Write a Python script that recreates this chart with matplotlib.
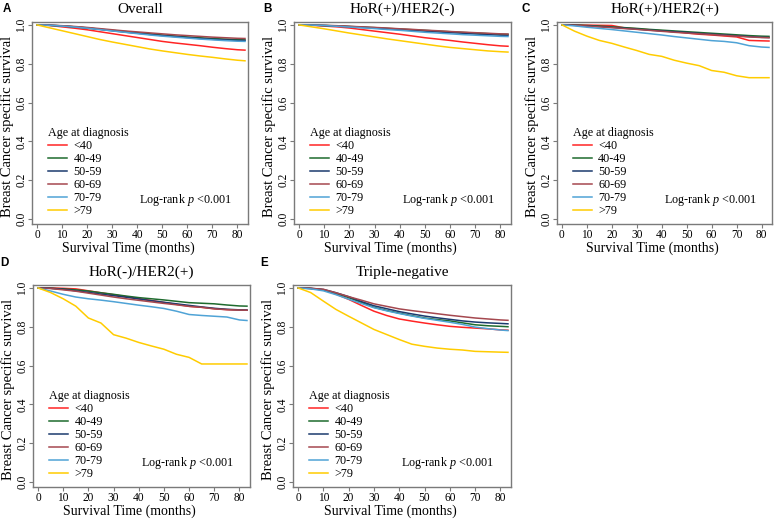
import matplotlib
matplotlib.use("Agg")
import matplotlib.pyplot as plt
from matplotlib.lines import Line2D

plt.rcParams['font.family'] = ['Liberation Serif', 'DejaVu Serif']
plt.rcParams['mathtext.fontset'] = 'custom'
plt.rcParams['mathtext.rm'] = 'Liberation Serif'
plt.rcParams['mathtext.it'] = 'Liberation Serif:italic'

# ---------------- data ----------------
months = [0, 5, 10, 15, 20, 25, 30, 35, 40, 45, 50, 55, 60, 65, 70, 75, 80, 83]
age_groups = ["<40", "40-49", "50-59", "60-69", "70-79", ">79"]
colors = ["#FF2424", "#1E6B2E", "#1B3A6E", "#A5484F", "#4FA3D6", "#FFCC00"]

overall = {
    "<40":   [1, .997, .99, .983, .975, .965, .955, .945, .935, .925, .915, .907, .90, .893, .885, .878, .872, .87],
    "40-49": [1, .998, .995, .99, .985, .978, .972, .966, .96, .954, .948, .943, .938, .934, .93, .927, .924, .923],
    "50-59": [1, .998, .995, .99, .984, .977, .97, .963, .957, .951, .945, .94, .935, .93, .926, .923, .92, .92],
    "60-69": [1, .999, .996, .992, .987, .981, .975, .969, .964, .959, .954, .949, .945, .941, .937, .934, .931, .93],
    "70-79": [1, .998, .994, .989, .983, .976, .969, .962, .955, .948, .942, .937, .932, .927, .923, .919, .916, .915],
    ">79":   [1, .985, .97, .955, .94, .925, .912, .9, .888, .876, .866, .857, .848, .84, .833, .825, .818, .815],
}
hor_pos_her2_neg = {
    "<40":   [1, .998, .994, .99, .984, .976, .968, .96, .952, .943, .934, .927, .92, .912, .905, .898, .892, .89],
    "40-49": [1, .999, .997, .995, .992, .989, .986, .982, .979, .975, .972, .968, .965, .961, .958, .955, .952, .951],
    "50-59": [1, .999, .997, .994, .991, .987, .984, .98, .976, .972, .968, .964, .96, .957, .953, .95, .947, .946],
    "60-69": [1, .999, .998, .996, .993, .99, .987, .984, .98, .977, .973, .97, .966, .963, .96, .957, .954, .953],
    "70-79": [1, .999, .997, .993, .989, .985, .981, .976, .972, .967, .962, .958, .954, .95, .947, .944, .941, .94],
    ">79":   [1, .99, .98, .969, .958, .948, .938, .928, .919, .91, .901, .892, .884, .878, .872, .866, .862, .86],
}
hor_pos_her2_pos = {
    "<40":   [1, 1, .999, .998, .997, .985, .98, .975, .97, .965, .958, .952, .948, .943, .938, .92, .918, .917],
    "40-49": [1, .999, .997, .994, .99, .986, .982, .977, .973, .969, .965, .961, .957, .953, .949, .945, .942, .941],
    "50-59": [1, .998, .995, .991, .987, .983, .978, .973, .969, .965, .961, .956, .952, .948, .944, .94, .936, .935],
    "60-69": [1, .998, .994, .99, .986, .981, .977, .972, .967, .962, .958, .954, .95, .946, .942, .938, .935, .934],
    "70-79": [1, .995, .988, .982, .976, .969, .962, .955, .948, .94, .933, .926, .919, .915, .908, .893, .886, .884],
    ">79":   [1, .968, .942, .92, .905, .886, .868, .848, .838, .818, .803, .79, .765, .756, .738, .728, .728, .728],
}
hor_neg_her2_pos = {
    "<40":   [1, 1, .998, .995, .985, .975, .965, .955, .945, .935, .925, .915, .905, .90, .893, .888, .886, .885],
    "40-49": [1, .998, .995, .99, .984, .975, .967, .958, .95, .944, .938, .931, .924, .921, .918, .912, .907, .906],
    "50-59": [1, .998, .993, .985, .977, .968, .96, .952, .943, .934, .926, .918, .91, .902, .895, .89, .887, .886],
    "60-69": [1, .997, .99, .983, .973, .963, .953, .944, .936, .928, .92, .913, .905, .90, .892, .888, .886, .885],
    "70-79": [1, .984, .967, .953, .944, .937, .929, .92, .911, .903, .894, .88, .863, .858, .854, .85, .835, .832],
    ">79":   [1, .976, .944, .906, .845, .819, .759, .741, .719, .701, .684, .658, .642, .608, .608, .608, .608, .608],
}
triple_negative = {
    "<40":   [1, .997, .99, .968, .941, .91, .88, .858, .84, .829, .819, .81, .802, .797, .793, .789, .784, .782],
    "40-49": [1, .997, .99, .972, .95, .925, .90, .884, .87, .857, .845, .837, .83, .82, .81, .805, .802, .80],
    "50-59": [1, .998, .992, .975, .955, .93, .908, .893, .878, .866, .855, .846, .838, .83, .824, .82, .817, .815],
    "60-69": [1, .998, .993, .975, .955, .937, .918, .905, .892, .883, .875, .867, .859, .852, .845, .84, .835, .833],
    "70-79": [1, .995, .985, .965, .942, .92, .898, .882, .868, .855, .843, .833, .823, .812, .798, .79, .783, .78],
    ">79":   [1, .976, .932, .889, .854, .82, .786, .76, .734, .71, .699, .69, .684, .68, .673, .671, .669, .668],
}

panel_titles = ["Overall", "HoR(+)/HER2(-)", "HoR(+)/HER2(+)", "HoR(-)/HER2(+)", "Triple-negative"]
panel_letters = ["A", "B", "C", "D", "E"]
panel_data = [overall, hor_pos_her2_neg, hor_pos_her2_pos, hor_neg_her2_pos, triple_negative]
x_ticks = [0, 10, 20, 30, 40, 50, 60, 70, 80]
y_ticks = [0.0, 0.2, 0.4, 0.6, 0.8, 1.0]

# ---------------- layout (pixels) ----------------
W, H = 778, 519
fig = plt.figure(figsize=(W / 100, H / 100), dpi=100)

boxes = [(32, 22, 248, 224), (294, 22, 511, 224), (557, 22, 772, 224),
         (33, 285, 250, 487), (293, 285, 511, 487)]
letter_pos = [(3, 2.8), (263, 2.8), (521, 2.8), (0.5, 257), (260.5, 257)]

spine_col = "#7a7a7a"
for i, (data, title, letter) in enumerate(zip(panel_data, panel_titles, panel_letters)):
    l, t, r, b = boxes[i]
    ax = fig.add_axes([l / W, 1 - b / H, (r - l) / W, (b - t) / H])
    for grp, col in zip(age_groups, colors):
        ax.plot(months, data[grp], color=col, lw=1.1)
    ax.set_xlim(-2, 84.2)
    ax.set_ylim(-0.026, 1.015)
    ax.set_xticks(x_ticks)
    ax.set_xticklabels([str(v) for v in x_ticks], fontsize=8.3)
    ax.set_yticks(y_ticks)
    ax.set_yticklabels([f"{v:.1f}" for v in y_ticks], fontsize=8.3, rotation=90, va='center')
    ax.tick_params(axis='both', length=3, width=0.8, color=spine_col, pad=0.5)
    for sp in ax.spines.values():
        sp.set_color(spine_col)
        sp.set_linewidth(1.0)
    ax.set_title(title, fontsize=11, pad=6.5)
    ax.set_xlabel("Survival Time (months)", fontsize=10)
    ax.xaxis.set_label_coords(0.445, -0.087)
    ax.set_ylabel("Breast Cancer specific survival", fontsize=10.5)
    ax.yaxis.set_label_coords(-0.082, 0.483)
    handles = [Line2D([], [], color=c, lw=1.1) for c in colors]
    ax.legend(handles, age_groups, title="Age at diagnosis", loc="upper left",
              bbox_to_anchor=(0.074, 0.479), frameon=False, fontsize=8.7,
              title_fontsize=8.7, alignment='left', borderpad=0,
              handlelength=1.55, handletextpad=0.55, labelspacing=0.08,
              borderaxespad=0)
    ax.text(0.497, 0.119, "Log-rank $p$ <0.001", transform=ax.transAxes,
            fontsize=8.7, va='center', ha='left')
    lx, ly = letter_pos[i]
    fig.text(lx / W, 1 - ly / H, letter, fontsize=8.4, fontweight='bold',
             family='Liberation Sans', va='top', ha='left')

fig.savefig("out.png", dpi=100)
